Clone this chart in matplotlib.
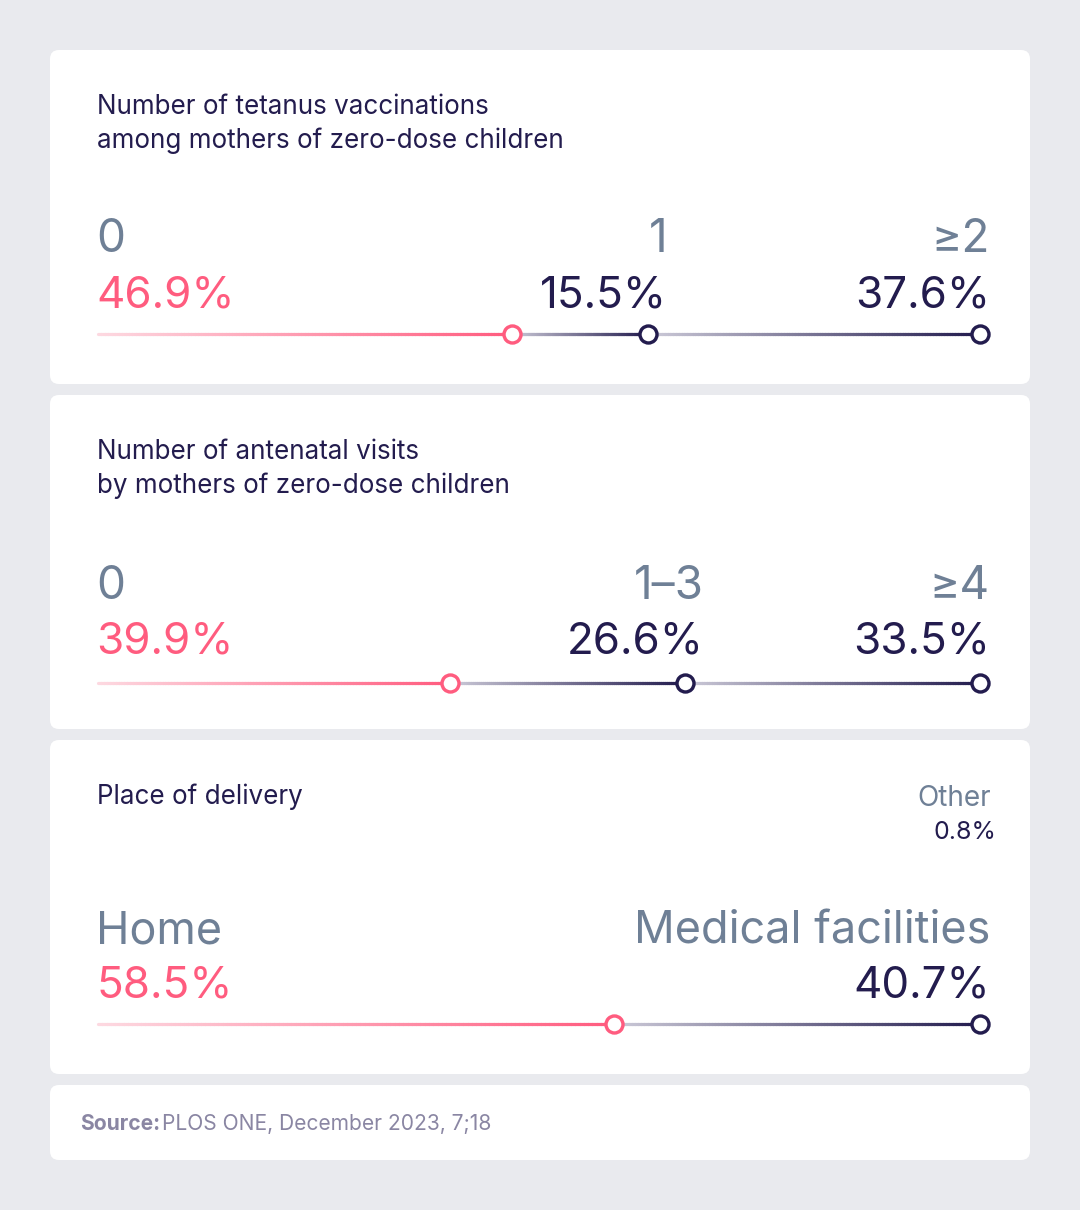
import matplotlib.pyplot as plt
import numpy as np
from matplotlib.collections import LineCollection
from matplotlib.patches import FancyBboxPatch
from matplotlib.colors import to_rgb

plt.rcParams['font.family'] = ['Inter', 'DejaVu Sans']

# data
titles = [
    "Number of tetanus vaccinations\namong mothers of zero-dose children",
    "Number of antenatal visits\nby mothers of zero-dose children",
    "Place of delivery",
]
categories = [["0", "1", "\u22652"], ["0", "1\u20133", "\u22654"], ["Home", "Medical facilities"]]
values = [[46.9, 15.5, 37.6], [39.9, 26.6, 33.5], [58.5, 40.7]]
other_label, other_value = "Other", 0.8
source = "PLOS ONE, December 2023, 7;18"

BG = "#e9eaee"
PINK = "#ff5c7f"
PINK_LIGHT = "#fdd9e1"
NAVY = "#231c4e"
NAVY_LIGHT = "#cdcbd9"
GREY = "#6f8096"
SRC = "#8a86a3"

PX = 72 / 100  # points per pixel

fig = plt.figure(figsize=(10.8, 12.1), dpi=100, facecolor=BG)
ax = fig.add_axes([0, 0, 1, 1])
ax.set_xlim(0, 1080)
ax.set_ylim(1210, 0)
ax.axis('off')

def card(y0, y1):
    ax.add_patch(FancyBboxPatch((50, y0), 980, y1 - y0,
                                boxstyle="round,pad=0,rounding_size=9",
                                fc="white", ec="none"))

def grad_line(x0, x1, y, c0, c1):
    n = 120
    xs = np.linspace(x0, x1, n + 1)
    segs = [[(xs[i], y), (xs[i + 1], y)] for i in range(n)]
    a, b = np.array(to_rgb(c0)), np.array(to_rgb(c1))
    cols = [a + (b - a) * t for t in np.linspace(0, 1, n)]
    ax.add_collection(LineCollection(segs, colors=cols, linewidths=3.2 * PX,
                                     capstyle='round', zorder=2))

def marker(x, y, c):
    ax.plot([x], [y], 'o', ms=17 * PX, mfc='white', mec=c, mew=3.4 * PX, zorder=3)

cards = [(50, 384), (395, 729), (740, 1074)]
title_y = [94, 439, 784]
cat_y = [252, 599, 943]
pct_y = [307, 654, 997]
bar_y = [334, 683, 1024]

X0, X1 = 98, 980
for k in range(3):
    card(*cards[k])
    ax.text(X0 - 1, title_y[k], titles[k], fontsize=26 * PX, color=NAVY,
            va='top', ha='left', linespacing=1.38)
    vals = values[k]
    cats = categories[k]
    cum = np.cumsum(vals)
    xs = [X0 + (X1 - X0) * c / 100 for c in cum[:-1]] + [X1]
    big = 45 if k == 2 else 46
    for i, v in enumerate(vals):
        col = PINK if i == 0 else NAVY
        x0 = X0 if i == 0 else xs[i - 1]
        grad_line(x0, xs[i], bar_y[k], PINK_LIGHT if i == 0 else NAVY_LIGHT, col)
        if i == 0:
            tx, ha = X0 - 2, 'left'
        else:
            tx, ha = xs[i] + (10 if i == len(vals) - 1 else 19), 'right'
        ax.text(tx, cat_y[k], cats[i], fontsize=big * PX, color=GREY,
                ha=ha, va='baseline')
        ax.text(tx, pct_y[k], f"{v}%", fontsize=44 * PX, color=col,
                ha=ha, va='baseline')
    for i in range(len(vals)):
        marker(xs[i], bar_y[k], PINK if i == 0 else NAVY)

ax.text(991, 806, other_label, fontsize=28 * PX, color=GREY, ha='right', va='baseline')
ax.text(996, 839, f"{other_value}%", fontsize=25 * PX, color=NAVY, ha='right', va='baseline')

card(1085, 1160)
t = ax.text(80, 1130, "Source:", fontsize=21 * PX, color=SRC, fontweight='bold',
            ha='left', va='baseline')
fig.canvas.draw()
bb = t.get_window_extent()
x_end = ax.transData.inverted().transform((bb.x1, bb.y0))[0]
ax.text(x_end + 2, 1130, source, fontsize=21 * PX, color=SRC, ha='left', va='baseline')

fig.savefig("out.png", dpi=100, facecolor=BG)
